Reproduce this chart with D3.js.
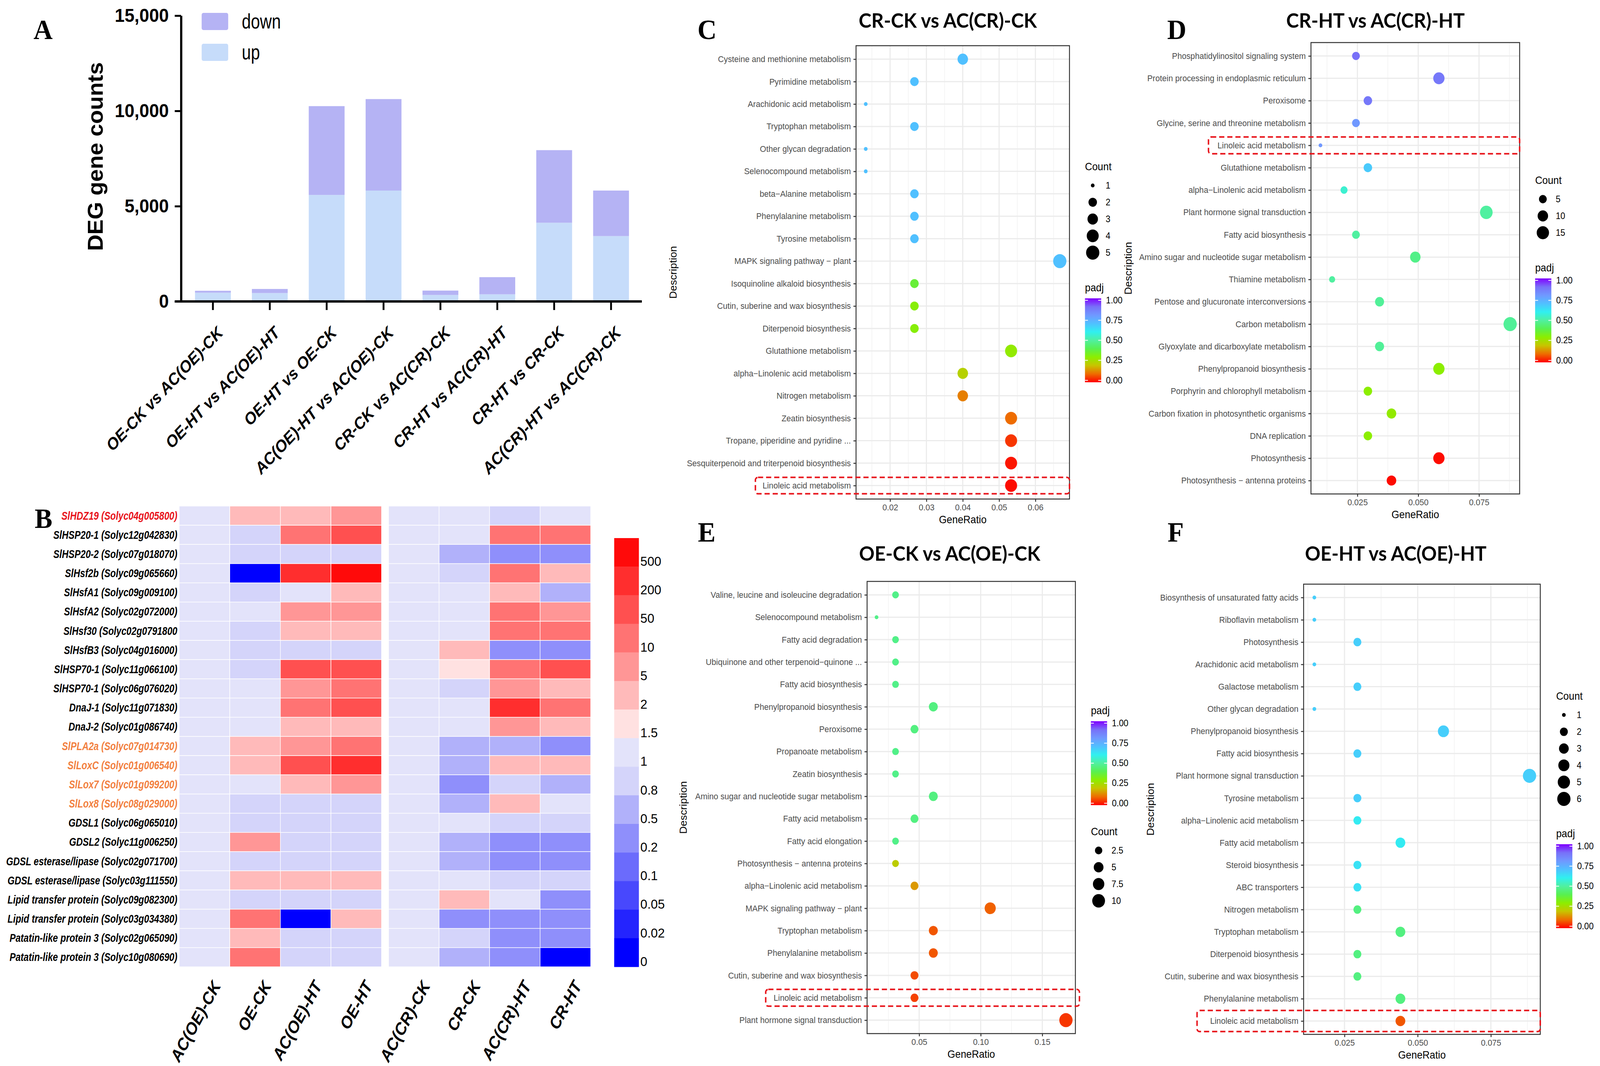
<!DOCTYPE html>
<html>
<head>
<meta charset="utf-8">
<script src="https://cdn.jsdelivr.net/npm/d3@7"></script>
<style>
  html, body { margin: 0; padding: 0; background: #fff; overflow: hidden; }
  svg { display: block; width: 100vw; height: 100vh; }
</style>
</head>
<body>
<script>
// ---------------- data ----------------

// Panel A: DEG counts per comparison
const comparisons = ["OE-CK vs AC(OE)-CK", "OE-HT vs AC(OE)-HT", "OE-HT vs OE-CK", "AC(OE)-HT vs AC(OE)-CK",
  "CR-CK vs AC(CR)-CK", "CR-HT vs AC(CR)-HT", "CR-HT vs CR-CK", "AC(CR)-HT vs AC(CR)-CK"];
const upCounts = [460, 440, 5590, 5820, 340, 375, 4130, 3430];
const downCounts = [100, 215, 4660, 4800, 230, 900, 3810, 2390];
const countTicks = [0, 5000, 10000, 15000];

// Panel B: relative expression heatmap
const samples = ["AC(OE)-CK", "OE-CK", "AC(OE)-HT", "OE-HT", "AC(CR)-CK", "CR-CK", "AC(CR)-HT", "CR-HT"];
const genes = ["SlHDZ19 (Solyc04g005800)", "SlHSP20-1 (Solyc12g042830)", "SlHSP20-2 (Solyc07g018070)",
  "SlHsf2b (Solyc09g065660)", "SlHsfA1 (Solyc09g009100)", "SlHsfA2 (Solyc02g072000)", "SlHsf30 (Solyc02g0791800",
  "SlHsfB3 (Solyc04g016000)", "SlHSP70-1 (Solyc11g066100)", "SlHSP70-1 (Solyc06g076020)", "DnaJ-1 (Solyc11g071830)",
  "DnaJ-2 (Solyc01g086740)", "SlPLA2a (Solyc07g014730)", "SlLoxC (Solyc01g006540)", "SlLox7 (Solyc01g099200)",
  "SlLox8 (Solyc08g029000)", "GDSL1 (Solyc06g065010)", "GDSL2 (Solyc11g006250)",
  "GDSL esterase/lipase (Solyc02g071700)", "GDSL esterase/lipase (Solyc03g111550)",
  "Lipid transfer protein (Solyc09g082300)", "Lipid transfer protein (Solyc03g034380)",
  "Patatin-like protein 3 (Solyc02g065090)", "Patatin-like protein 3 (Solyc10g080690)"];
const redGenes = ["SlHDZ19 (Solyc04g005800)"];
const orangeGenes = ["SlPLA2a (Solyc07g014730)", "SlLoxC (Solyc01g006540)", "SlLox7 (Solyc01g099200)", "SlLox8 (Solyc08g029000)"];
const acOeCk = [1, 1, 1, 1, 1, 1, 1, 1, 1, 1, 1, 1, 1, 1, 1, 1, 1, 1, 1, 1, 1, 1, 1, 1];
const oeCk = [2, 0.8, 0.8, 0, 0.8, 1, 0.8, 0.8, 0.8, 1, 1, 1, 2, 2, 1, 0.8, 0.8, 5, 0.8, 2, 0.8, 10, 2, 10];
const acOeHt = [2, 10, 0.8, 200, 1, 5, 2, 0.8, 50, 5, 10, 2, 5, 50, 2, 0.8, 0.8, 0.8, 0.8, 2, 0.8, 0, 0.8, 0.8];
const oeHt = [5, 50, 0.8, 500, 2, 5, 2, 0.8, 50, 10, 50, 2, 10, 200, 5, 0.8, 0.8, 0.8, 0.8, 2, 0.8, 2, 0.8, 0.8];
const acCrCk = [1, 1, 1, 1, 1, 1, 1, 1, 1, 1, 1, 1, 1, 1, 1, 1, 1, 1, 1, 1, 1, 1, 1, 1];
const crCk = [1, 1, 0.5, 0.8, 1, 1, 1, 2, 1.5, 0.8, 1, 1, 0.5, 0.5, 0.2, 0.5, 1, 0.5, 0.5, 1, 2, 0.2, 0.8, 0.5];
const acCrHt = [0.8, 10, 0.2, 10, 2, 10, 10, 0.2, 10, 5, 200, 5, 0.5, 2, 0.8, 2, 0.8, 0.2, 0.2, 0.8, 1, 0.2, 0.2, 0.2];
const crHt = [1, 10, 0.2, 2, 0.5, 5, 10, 0.2, 50, 2, 10, 2, 0.2, 2, 0.5, 1, 0.8, 0.2, 0.2, 0.8, 0.2, 0.2, 0.2, 0];
const foldBreaks = [0.02, 0.05, 0.1, 0.2, 0.5, 0.8, 1, 1.5, 2, 5, 10, 50, 200, 500];
const foldLabels = ["0", "0.02", "0.05", "0.1", "0.2", "0.5", "0.8", "1", "1.5", "2", "5", "10", "50", "200", "500"];
const foldColors = ["#0000ff", "#2424fe", "#4848fd", "#6b6bfc", "#8f8ffb", "#b1b1fa", "#d4d4fa", "#e3e3fa",
  "#ffe1e1", "#ffbaba", "#ff9696", "#ff7373", "#ff5050", "#ff2e2e", "#ff0a0a"];

// Panel C: CR-CK vs AC(CR)-CK
const cTerms = ["Cysteine and methionine metabolism", "Pyrimidine metabolism", "Arachidonic acid metabolism",
  "Tryptophan metabolism", "Other glycan degradation", "Selenocompound metabolism", "beta\u2212Alanine metabolism",
  "Phenylalanine metabolism", "Tyrosine metabolism", "MAPK signaling pathway \u2212 plant",
  "Isoquinoline alkaloid biosynthesis", "Cutin, suberine and wax biosynthesis", "Diterpenoid biosynthesis",
  "Glutathione metabolism", "alpha\u2212Linolenic acid metabolism", "Nitrogen metabolism", "Zeatin biosynthesis",
  "Tropane, piperidine and pyridine ...", "Sesquiterpenoid and triterpenoid biosynthesis", "Linoleic acid metabolism"];
const cRatio = [0.0400, 0.0267, 0.0133, 0.0267, 0.0133, 0.0133, 0.0267, 0.0267, 0.0267, 0.0667,
  0.0267, 0.0267, 0.0267, 0.0533, 0.0400, 0.0400, 0.0533, 0.0533, 0.0533, 0.0533];
const cCount = [3, 2, 1, 2, 1, 1, 2, 2, 2, 5, 2, 2, 2, 4, 3, 3, 4, 4, 4, 4];
const cPadj = [0.70, 0.70, 0.70, 0.70, 0.70, 0.70, 0.70, 0.70, 0.70, 0.70,
  0.37, 0.31, 0.31, 0.29, 0.23, 0.12, 0.10, 0.05, 0.02, 0.01];
const cTicks = [0.02, 0.03, 0.04, 0.05, 0.06];
const cSizes = [1, 2, 3, 4, 5];

// Panel D: CR-HT vs AC(CR)-HT
const dTerms = ["Phosphatidylinositol signaling system", "Protein processing in endoplasmic reticulum", "Peroxisome",
  "Glycine, serine and threonine metabolism", "Linoleic acid metabolism", "Glutathione metabolism",
  "alpha\u2212Linolenic acid metabolism", "Plant hormone signal transduction", "Fatty acid biosynthesis",
  "Amino sugar and nucleotide sugar metabolism", "Thiamine metabolism", "Pentose and glucuronate interconversions",
  "Carbon metabolism", "Glyoxylate and dicarboxylate metabolism", "Phenylpropanoid biosynthesis",
  "Porphyrin and chlorophyll metabolism", "Carbon fixation in photosynthetic organisms", "DNA replication",
  "Photosynthesis", "Photosynthesis \u2212 antenna proteins"];
const dRatio = [0.0244, 0.0585, 0.0293, 0.0244, 0.0098, 0.0293, 0.0195, 0.0780, 0.0244, 0.0488,
  0.0146, 0.0341, 0.0878, 0.0341, 0.0585, 0.0293, 0.0390, 0.0293, 0.0585, 0.0390];
const dCount = [5, 12, 6, 5, 2, 6, 4, 16, 5, 10, 3, 7, 18, 7, 12, 6, 8, 6, 12, 8];
const dPadj = [0.90, 0.88, 0.88, 0.80, 0.80, 0.68, 0.56, 0.50, 0.50, 0.47,
  0.50, 0.49, 0.49, 0.49, 0.30, 0.30, 0.29, 0.30, 0.01, 0.01];
const dTicks = [0.025, 0.050, 0.075];
const dSizes = [5, 10, 15];

// Panel E: OE-CK vs AC(OE)-CK
const eTerms = ["Valine, leucine and isoleucine degradation", "Selenocompound metabolism", "Fatty acid degradation",
  "Ubiquinone and other terpenoid\u2212quinone ...", "Fatty acid biosynthesis", "Phenylpropanoid biosynthesis",
  "Peroxisome", "Propanoate metabolism", "Zeatin biosynthesis", "Amino sugar and nucleotide sugar metabolism",
  "Fatty acid metabolism", "Fatty acid elongation", "Photosynthesis \u2212 antenna proteins",
  "alpha\u2212Linolenic acid metabolism", "MAPK signaling pathway \u2212 plant", "Tryptophan metabolism",
  "Phenylalanine metabolism", "Cutin, suberine and wax biosynthesis", "Linoleic acid metabolism",
  "Plant hormone signal transduction"];
const eRatio = [0.0308, 0.0154, 0.0308, 0.0308, 0.0308, 0.0615, 0.0462, 0.0308, 0.0308, 0.0615,
  0.0462, 0.0308, 0.0308, 0.0462, 0.1077, 0.0615, 0.0615, 0.0462, 0.0462, 0.1692];
const eCount = [2, 1, 2, 2, 2, 4, 3, 2, 2, 4, 3, 2, 2, 3, 7, 4, 4, 3, 3, 11];
const ePadj = [0.47, 0.47, 0.47, 0.47, 0.47, 0.46, 0.46, 0.47, 0.47, 0.46,
  0.46, 0.47, 0.22, 0.15, 0.09, 0.08, 0.08, 0.07, 0.06, 0.05];
const eTicks = [0.05, 0.10, 0.15];
const eSizes = [2.5, 5, 7.5, 10];

// Panel F: OE-HT vs AC(OE)-HT
const fTerms = ["Biosynthesis of unsaturated fatty acids", "Riboflavin metabolism", "Photosynthesis",
  "Arachidonic acid metabolism", "Galactose metabolism", "Other glycan degradation", "Phenylpropanoid biosynthesis",
  "Fatty acid biosynthesis", "Plant hormone signal transduction", "Tyrosine metabolism",
  "alpha\u2212Linolenic acid metabolism", "Fatty acid metabolism", "Steroid biosynthesis", "ABC transporters",
  "Nitrogen metabolism", "Tryptophan metabolism", "Diterpenoid biosynthesis", "Cutin, suberine and wax biosynthesis",
  "Phenylalanine metabolism", "Linoleic acid metabolism"];
const fRatio = [0.0147, 0.0147, 0.0294, 0.0147, 0.0294, 0.0147, 0.0588, 0.0294, 0.0882, 0.0294,
  0.0294, 0.0441, 0.0294, 0.0294, 0.0294, 0.0441, 0.0294, 0.0294, 0.0441, 0.0441];
const fCount = [1, 1, 2, 1, 2, 1, 4, 2, 6, 2, 2, 3, 2, 2, 2, 3, 2, 2, 3, 3];
const fPadj = [0.67, 0.67, 0.67, 0.67, 0.67, 0.67, 0.67, 0.67, 0.67, 0.67,
  0.61, 0.61, 0.63, 0.63, 0.46, 0.46, 0.46, 0.46, 0.46, 0.08];
const fTicks = [0.025, 0.050, 0.075];
const fSizes = [1, 2, 3, 4, 5, 6];

const padjTicks = [0, 0.25, 0.5, 0.75, 1];
const padjStops = [0, 0.1, 0.2, 0.3, 0.4, 0.5, 0.6, 0.7, 0.8, 0.9, 1];
const padjColors = ["#ff0000", "#ee6c00", "#c8c400", "#8cee00", "#58f050", "#50f0a0",
  "#30f0f0", "#50c0ff", "#7098ff", "#7870f8", "#8000ff"];

// ---------------- setup ----------------
const SANS = "'Liberation Sans', Arial, Helvetica, sans-serif";
const SERIF = "'Liberation Serif', 'Times New Roman', serif";
const HEAD = "Lato, 'Open Sans', sans-serif";
const NARROW_X = 0.82;   // horizontal squeeze to mimic Arial Narrow

// the drawing is laid out on the reference's 4340 x 2730 grid and stretched to the window
const svg = d3.select("body").append("svg")
  .attr("viewBox", "0 0 4340 2730")
  .attr("preserveAspectRatio", "none");
svg.append("rect").attr("width", 4340).attr("height", 2730).attr("fill", "#fff");

const padjColor = d3.scaleLinear().domain(padjStops).range(padjColors);

// shared gradient for the padj colour bars (bottom = 0, top = 1)
const grad = svg.append("defs").append("linearGradient")
  .attr("id", "padj-grad")
  .attr("x1", 0).attr("y1", 1).attr("x2", 0).attr("y2", 0);
grad.selectAll("stop").data(padjStops).join("stop")
  .attr("offset", d => d)
  .attr("stop-color", d => padjColor(d));

// panel letters
const panelLetters = [["A", 117, 100], ["B", 118, 1352], ["C", 1918, 100], ["D", 3192, 100], ["E", 1917, 1387], ["F", 3189, 1387]];
svg.selectAll("text.letter").data(panelLetters).join("text")
  .attr("class", "letter")
  .attr("x", d => d[1]).attr("y", d => d[2])
  .attr("text-anchor", "middle")
  .attr("font-family", SERIF).attr("font-weight", "bold").attr("font-size", 72)
  .text(d => d[0]);

// ---------------- Panel A ----------------
const gA = svg.append("g");
const xA = d3.scaleBand().domain(comparisons).range([495, 1740]).paddingInner(0.37).paddingOuter(0.22);
const yA = d3.scaleLinear().domain([0, 15000]).range([772, 40]);
const fillA = { up: "#c6dcfa", down: "#b5b3f4" };

const stacked = d3.stack().keys(["up", "down"])(
  comparisons.map((c, i) => ({ name: c, up: upCounts[i], down: downCounts[i] })));

gA.selectAll("g.layer").data(stacked).join("g")
  .attr("fill", d => fillA[d.key])
  .selectAll("rect").data(d => d).join("rect")
  .attr("x", d => xA(d.data.name))
  .attr("width", xA.bandwidth())
  .attr("y", d => yA(d[1]))
  .attr("height", d => yA(d[0]) - yA(d[1]));

// y axis
const axA = gA.append("g")
  .attr("transform", "translate(491,0)")
  .call(d3.axisLeft(yA).tickValues(countTicks).tickFormat(d3.format(",")).tickSize(17).tickSizeOuter(0).tickPadding(16));
axA.select(".domain").attr("stroke", "#000").attr("stroke-width", 6);
axA.selectAll(".tick line").attr("stroke", "#000").attr("stroke-width", 5);
axA.selectAll(".tick text")
  .attr("font-family", SANS).attr("font-weight", "bold").attr("font-size", 48).attr("fill", "#000");

// x axis
gA.append("line")
  .attr("x1", 474).attr("x2", 1741).attr("y1", 772).attr("y2", 772)
  .attr("stroke", "#000").attr("stroke-width", 6);
gA.selectAll("line.xtick").data(comparisons).join("line")
  .attr("x1", d => xA(d) + xA.bandwidth() / 2).attr("x2", d => xA(d) + xA.bandwidth() / 2)
  .attr("y1", 772).attr("y2", 794)
  .attr("stroke", "#000").attr("stroke-width", 5);
gA.selectAll("text.xlab").data(comparisons).join("text")
  .attr("transform", d => `translate(${xA(d) + xA.bandwidth() / 2 + 30},855) rotate(-45)`)
  .attr("text-anchor", "end")
  .attr("font-family", SANS).attr("font-weight", "bold").attr("font-style", "italic").attr("font-size", 42)
  .text(d => d);

gA.append("text")
  .attr("transform", "translate(279,401) rotate(-90)")
  .attr("text-anchor", "middle")
  .attr("font-family", SANS).attr("font-weight", "bold").attr("font-size", 58)
  .text("DEG gene counts");

// legend
const legA = gA.selectAll("g.leg").data(["down", "up"]).join("g")
  .attr("transform", (d, i) => `translate(547,${33 + i * 79})`);
legA.append("rect").attr("width", 72).attr("height", 44).attr("rx", 5).attr("fill", d => fillA[d]);
legA.append("text")
  .attr("transform", `translate(109,40) scale(${NARROW_X},1)`)
  .attr("font-family", SANS).attr("font-size", 54)
  .text(d => d);

// ---------------- Panel B ----------------
const gB = svg.append("g");
const columns = [acOeCk, oeCk, acOeHt, oeHt, acCrCk, crCk, acCrHt, crHt];
const xLeft = d3.scaleBand().domain(samples.slice(0, 4)).range([486, 1035]);
const xRight = d3.scaleBand().domain(samples.slice(4)).range([1054, 1602]);
const xB = s => (samples.indexOf(s) < 4 ? xLeft(s) : xRight(s));
const yB = d3.scaleBand().domain(genes).range([1296, 2476]);
const foldColor = d3.scaleThreshold().domain(foldBreaks).range(foldColors);

const cells = [];
samples.forEach((s, j) => genes.forEach((g, i) => cells.push({ s, g, v: columns[j][i] })));

gB.selectAll("rect.cell").data(cells).join("rect")
  .attr("x", d => xB(d.s))
  .attr("y", d => yB(d.g))
  .attr("width", xLeft.bandwidth())
  .attr("height", yB.bandwidth())
  .attr("fill", d => foldColor(d.v))
  .attr("stroke", "#fff").attr("stroke-width", 1.5);

gB.selectAll("text.gene").data(genes).join("text")
  .attr("transform", d => `translate(481,${yB(d) + yB.bandwidth() / 2}) scale(${NARROW_X},1)`)
  .attr("dominant-baseline", "central")
  .attr("text-anchor", "end")
  .attr("font-family", SANS).attr("font-weight", "bold").attr("font-style", "italic").attr("font-size", 30)
  .attr("fill", d => redGenes.includes(d) ? "#e8141b" : orangeGenes.includes(d) ? "#f2803f" : "#000")
  .text(d => d);

gB.selectAll("text.sample").data(samples).join("text")
  .attr("transform", d => `translate(${xB(d) + xLeft.bandwidth() / 2 + 46},2524) rotate(-60)`)
  .attr("text-anchor", "end")
  .attr("font-family", SANS).attr("font-weight", "bold").attr("font-style", "italic").attr("font-size", 43)
  .text(d => d);

// colour key
const keyOrder = foldLabels.slice().reverse();
const yKey = d3.scaleBand().domain(keyOrder).range([1378, 2476]);
gB.selectAll("rect.key").data(keyOrder).join("rect")
  .attr("x", 1666).attr("width", 67)
  .attr("y", d => yKey(d))
  .attr("height", yKey.bandwidth() + 0.5)
  .attr("fill", d => foldColors[foldLabels.indexOf(d)]);
gB.selectAll("text.key").data(keyOrder).join("text")
  .attr("x", 1737)
  .attr("y", d => yKey(d) + yKey.bandwidth() - 14)
  .attr("dominant-baseline", "central")
  .attr("font-family", SANS).attr("font-size", 34)
  .text(d => d);

// ---------------- Panels C-F (KEGG dot plots) ----------------
function dotPanel(o) {
  const g = svg.append("g");
  const [lo, hi] = d3.extent(o.ratio);
  const pad = (hi - lo) * 0.05;
  const x = d3.scaleLinear().domain([lo - pad, hi + pad]).range([o.left, o.right]);
  const y = d3.scalePoint().domain(o.terms).range([o.top, o.bottom]).padding(0.6);
  const [cLo, cHi] = d3.extent(o.count);
  const rad = d3.scaleLinear().domain([0, 1]).range([5, 18]);
  const r = c => rad(Math.sqrt(Math.max(0, c - cLo) / (cHi - cLo)));

  // grid
  const step = o.ticks[1] - o.ticks[0];
  const minor = d3.range(o.ticks[0] - step / 2, x.domain()[1], step).filter(v => v > x.domain()[0]);
  g.selectAll("line.minor").data(minor).join("line")
    .attr("x1", d => x(d)).attr("x2", d => x(d))
    .attr("y1", o.top).attr("y2", o.bottom)
    .attr("stroke", "#f2f2f2").attr("stroke-width", 1.6);
  g.selectAll("line.majx").data(o.ticks).join("line")
    .attr("x1", d => x(d)).attr("x2", d => x(d))
    .attr("y1", o.top).attr("y2", o.bottom)
    .attr("stroke", "#ebebeb").attr("stroke-width", 3);
  g.selectAll("line.majy").data(o.terms).join("line")
    .attr("x1", o.left).attr("x2", o.right)
    .attr("y1", d => y(d)).attr("y2", d => y(d))
    .attr("stroke", "#ebebeb").attr("stroke-width", 3);

  // points
  g.selectAll("circle.pt").data(o.terms).join("circle")
    .attr("cx", (d, i) => x(o.ratio[i]))
    .attr("cy", d => y(d))
    .attr("r", (d, i) => r(o.count[i]))
    .attr("fill", (d, i) => padjColor(o.padj[i]));

  // border
  g.append("rect")
    .attr("x", o.left).attr("y", o.top)
    .attr("width", o.right - o.left).attr("height", o.bottom - o.top)
    .attr("fill", "none").attr("stroke", "#333").attr("stroke-width", 2.5);

  // axes
  const ay = g.append("g").attr("transform", `translate(${o.left},0)`)
    .call(d3.axisLeft(y).tickSize(7).tickPadding(7));
  const ax = g.append("g").attr("transform", `translate(0,${o.bottom})`)
    .call(d3.axisBottom(x).tickValues(o.ticks).tickFormat(d3.format(o.fmt)).tickSize(7).tickPadding(6));
  [ay, ax].forEach(a => {
    a.select(".domain").remove();
    a.selectAll(".tick line").attr("stroke", "#333").attr("stroke-width", 2.5);
    a.selectAll(".tick text").attr("fill", "#4d4d4d").attr("font-family", SANS).attr("font-size", 22);
  });

  g.append("text")
    .attr("x", (o.left + o.right) / 2).attr("y", o.bottom + 62)
    .attr("text-anchor", "middle")
    .attr("font-family", SANS).attr("font-size", 27)
    .text("GeneRatio");
  g.append("text")
    .attr("transform", `translate(${o.descX},${(o.top + o.bottom) / 2}) rotate(-90)`)
    .attr("text-anchor", "middle").attr("dominant-baseline", "central")
    .attr("font-family", SANS).attr("font-size", 27)
    .text("Description");
  g.append("text")
    .attr("x", o.titleX).attr("y", o.titleY)
    .attr("text-anchor", "middle")
    .attr("font-family", HEAD).attr("font-weight", "bold").attr("font-size", 52)
    .text(o.title);

  // count legend
  const cl = g.append("g");
  cl.append("text").attr("x", o.legX).attr("y", o.countY)
    .attr("font-family", SANS).attr("font-size", 27).text("Count");
  const items = cl.selectAll("g").data(o.sizes).join("g")
    .attr("transform", (d, i) => `translate(${o.legX},${o.countY + 39 + i * 43})`);
  items.append("circle").attr("cx", 21).attr("r", d => r(d)).attr("fill", "#000");
  items.append("text").attr("x", 56).attr("dominant-baseline", "central")
    .attr("font-family", SANS).attr("font-size", 23).text(d => d);

  // padj legend
  const pl = g.append("g");
  pl.append("text").attr("x", o.legX).attr("y", o.padjY)
    .attr("font-family", SANS).attr("font-size", 27).text("padj");
  const barTop = o.padjY + 18, barH = 215, barW = 44;
  pl.append("rect").attr("x", o.legX).attr("y", barTop)
    .attr("width", barW).attr("height", barH).attr("fill", "url(#padj-grad)");
  const yP = d3.scaleLinear().domain([0, 1]).range([barTop + barH - 5, barTop + 5]);
  pl.selectAll("line.tl").data(padjTicks).join("line")
    .attr("x1", o.legX).attr("x2", o.legX + 8)
    .attr("y1", d => yP(d)).attr("y2", d => yP(d))
    .attr("stroke", "#fff").attr("stroke-width", 2);
  pl.selectAll("line.tr").data(padjTicks).join("line")
    .attr("x1", o.legX + barW - 8).attr("x2", o.legX + barW)
    .attr("y1", d => yP(d)).attr("y2", d => yP(d))
    .attr("stroke", "#fff").attr("stroke-width", 2);
  pl.selectAll("text.pt").data(padjTicks).join("text")
    .attr("x", o.legX + 57).attr("y", d => yP(d))
    .attr("dominant-baseline", "central")
    .attr("font-family", SANS).attr("font-size", 23)
    .text(d => d3.format(".2f")(d));

  // highlight box
  const by = y(o.highlight);
  g.append("rect")
    .attr("x", o.boxX[0]).attr("y", by - o.boxH / 2)
    .attr("width", o.boxX[1] - o.boxX[0]).attr("height", o.boxH)
    .attr("rx", 7)
    .attr("fill", "none").attr("stroke", "#e8141b").attr("stroke-width", 4)
    .attr("stroke-dasharray", "14 8");
}

dotPanel({ title: "CR-CK vs AC(CR)-CK", titleX: 2571, titleY: 71,
  terms: cTerms, ratio: cRatio, count: cCount, padj: cPadj, ticks: cTicks, fmt: ".2f", sizes: cSizes,
  left: 2322, right: 2901, top: 117, bottom: 1278, descX: 1826,
  legX: 2943, countY: 436, padjY: 746, highlight: "Linoleic acid metabolism", boxX: [2049, 2901], boxH: 42 });

dotPanel({ title: "CR-HT vs AC(CR)-HT", titleX: 3731, titleY: 71,
  terms: dTerms, ratio: dRatio, count: dCount, padj: dPadj, ticks: dTicks, fmt: ".3f", sizes: dSizes,
  left: 3556, right: 4122, top: 109, bottom: 1265, descX: 3060,
  legX: 4164, countY: 471, padjY: 695, highlight: "Linoleic acid metabolism", boxX: [3278, 4122], boxH: 43 });

dotPanel({ title: "OE-CK vs AC(OE)-CK", titleX: 2576, titleY: 1436,
  terms: eTerms, ratio: eRatio, count: eCount, padj: ePadj, ticks: eTicks, fmt: ".2f", sizes: eSizes,
  left: 2352, right: 2917, top: 1489, bottom: 2647, descX: 1853,
  legX: 2959, countY: 2139, padjY: 1829, highlight: "Linoleic acid metabolism", boxX: [2077, 2928], boxH: 43 });

dotPanel({ title: "OE-HT vs AC(OE)-HT", titleX: 3786, titleY: 1436,
  terms: fTerms, ratio: fRatio, count: fCount, padj: fPadj, ticks: fTicks, fmt: ".3f", sizes: fSizes,
  left: 3536, right: 4178, top: 1496, bottom: 2649, descX: 3121,
  legX: 4221, countY: 1792, padjY: 2144, highlight: "Linoleic acid metabolism", boxX: [3247, 4178], boxH: 54 });
</script>
</body>
</html>
